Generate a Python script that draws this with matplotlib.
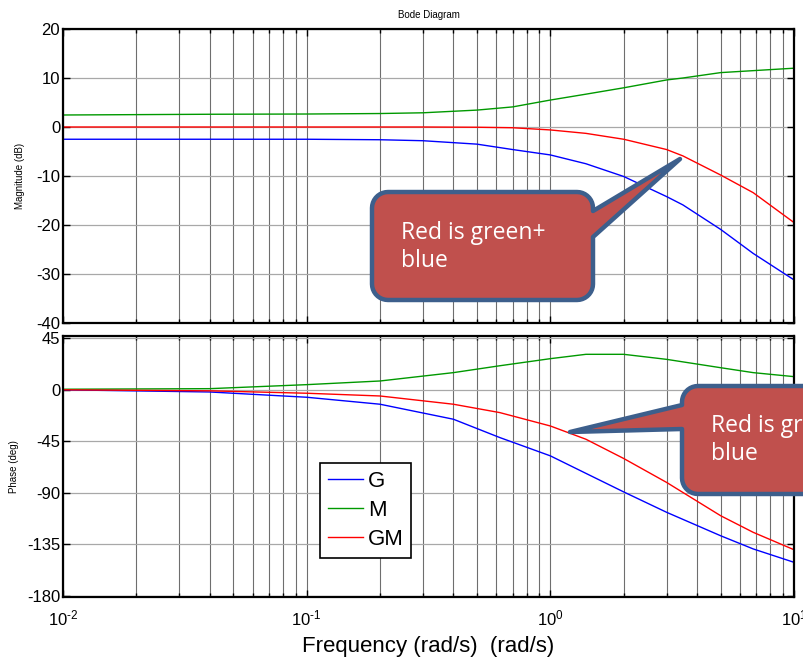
import numpy as np
import matplotlib
matplotlib.use('Agg')
import matplotlib.pyplot as plt
from matplotlib.patches import Polygon
from matplotlib.ticker import LogLocator, NullFormatter, FixedLocator, FuncFormatter

plt.rcParams['font.family'] = ['Liberation Sans', 'DejaVu Sans']
plt.rcParams['mathtext.fontset'] = 'custom'
plt.rcParams['mathtext.rm'] = 'Liberation Sans'
plt.rcParams['mathtext.it'] = 'Liberation Sans'
plt.rcParams['axes.unicode_minus'] = False

# Daten
f_mag = [0.01, 0.04, 0.1, 0.2, 0.3, 0.5, 0.7, 1, 1.4, 2, 3, 3.5, 5, 6.8, 10]
mag_G = [-2.5, -2.5, -2.5, -2.6, -2.8, -3.5, -4.6, -5.7, -7.5, -10.1, -14.2, -15.9, -20.9, -25.8, -31.2]
mag_M = [2.45, 2.6, 2.65, 2.75, 2.9, 3.45, 4.1, 5.5, 6.7, 8.0, 9.6, 10.0, 11.1, 11.5, 12.0]
mag_GM = [0, 0, 0, 0, 0, -0.05, -0.15, -0.6, -1.3, -2.5, -4.6, -5.9, -9.8, -13.4, -19.5]

f_ph = [0.01, 0.04, 0.1, 0.2, 0.4, 0.62, 1, 1.4, 2, 3, 5, 6.8, 10]
ph_G = [0, -1.9, -6.5, -12.6, -25.7, -41.7, -57.7, -73, -89.2, -107, -127.5, -139, -150.7]
ph_M = [0.5, 1.0, 4.5, 7.7, 15, 21, 27.2, 31, 31, 26.6, 19.3, 15, 11.5]
ph_GM = [0, -0.9, -3, -5.4, -12.6, -19.9, -31.6, -43.2, -60, -80.9, -110, -124.5, -139.7]

namen = ['G', 'M', 'GM']
farben = ['#0000ff', '#009900', '#ff0000']

callout_text = 'Red is green+\nblue'

fig = plt.figure(figsize=(8.04, 6.59), dpi=100)
ax1 = fig.add_axes([63/804, 1-323/659, 731/804, 294/659])
ax2 = fig.add_axes([63/804, 1-597/659, 731/804, 261/659])

def zehner(x, pos):
    return r'10$^{\text{%d}}$' % int(round(np.log10(x)))

def styling(ax):
    ax.set_xscale('log')
    ax.set_xlim(0.01, 10)
    ax.xaxis.set_major_locator(LogLocator(base=10, numticks=10))
    ax.xaxis.set_major_formatter(FuncFormatter(zehner))
    ax.xaxis.set_minor_locator(LogLocator(base=10, subs=np.arange(2, 10), numticks=10))
    ax.xaxis.set_minor_formatter(NullFormatter())
    ax.grid(True, which='major', axis='y', color='#a8a8a8', lw=0.9)
    ax.grid(True, which='both', axis='x', color='#6e6e6e', lw=0.8)
    ax.tick_params(which='both', direction='in', top=True, right=True, labelsize=12, width=1)
    ax.tick_params(which='major', length=5)
    ax.tick_params(which='minor', length=3)
    ax.tick_params(axis='y', pad=2)
    ax.tick_params(axis='x', pad=8)
    for s in ax.spines.values():
        s.set_linewidth(1.6)
    ax.set_axisbelow(True)

for ax in (ax1, ax2):
    styling(ax)

for y, c in zip([mag_G, mag_M, mag_GM], farben):
    ax1.plot(f_mag, y, color=c, lw=1)
ax1.set_ylim(-40, 20)
ax1.yaxis.set_major_locator(FixedLocator([-40, -30, -20, -10, 0, 10, 20]))
ax1.set_xticklabels([])
ax1.set_ylabel('Magnitude (dB)', fontsize=7, labelpad=8)
ax1.set_title('Bode Diagram', fontsize=7, pad=8)

for y, c, n in zip([ph_G, ph_M, ph_GM], farben, namen):
    ax2.plot(f_ph, y, color=c, lw=1, label=n)
ax2.set_ylim(-181, 47)
ax2.yaxis.set_major_locator(FixedLocator([-180, -135, -90, -45, 0, 45]))
ax2.set_ylabel('Phase (deg)', fontsize=7, labelpad=6)
ax2.set_xlabel('Frequency (rad/s)  (rad/s)', fontsize=16, labelpad=6)
leg = ax2.legend(loc='lower left', bbox_to_anchor=(257/731, 39/261), fontsize=16,
                 fancybox=False, edgecolor='black', framealpha=1, handlelength=1.6,
                 handletextpad=0.2, labelspacing=0.36, borderpad=0.35, borderaxespad=0)
leg.get_frame().set_linewidth(1.2)

# Overlay fuer die Sprechblasen (Pixelkoordinaten)
ov = fig.add_axes([0, 0, 1, 1])
ov.set_xlim(0, 804)
ov.set_ylim(659, 0)
ov.axis('off')

def blase(x0, y0, x1, y1, seite, b1, b2, tip, r=16):
    # abgerundetes Rechteck mit Zeiger an einer Seite
    def bogen(cx, cy, a0, a1):
        t = np.radians(np.linspace(a0, a1, 10))
        return list(zip(cx + r*np.cos(t), cy + r*np.sin(t)))
    pts = []
    pts += bogen(x0 + r, y0 + r, 180, 270)
    pts += bogen(x1 - r, y0 + r, 270, 360)
    if seite == 'rechts':
        pts += [(x1, b1), tip, (x1, b2)]
    pts += bogen(x1 - r, y1 - r, 0, 90)
    pts += bogen(x0 + r, y1 - r, 90, 180)
    if seite == 'links':
        pts += [(x0, b2), tip, (x0, b1)]
    return Polygon(pts, closed=True, facecolor='#c0504d', edgecolor='#3d5f8c',
                   lw=3.2, joinstyle='round')

ov.add_patch(blase(372, 192, 593, 300, 'rechts', 211, 237, (680, 159)))
ov.text(401, 247, callout_text, color='white', fontsize=16.5, family=['Open Sans', 'DejaVu Sans'],
        va='center', ha='left', linespacing=1.2)
ov.add_patch(blase(682, 386, 900, 494, 'links', 405, 429, (570, 432)))
ov.text(711, 440, callout_text, color='white', fontsize=16.5, family=['Open Sans', 'DejaVu Sans'],
        va='center', ha='left', linespacing=1.2)

fig.savefig('out.png', dpi=100)
